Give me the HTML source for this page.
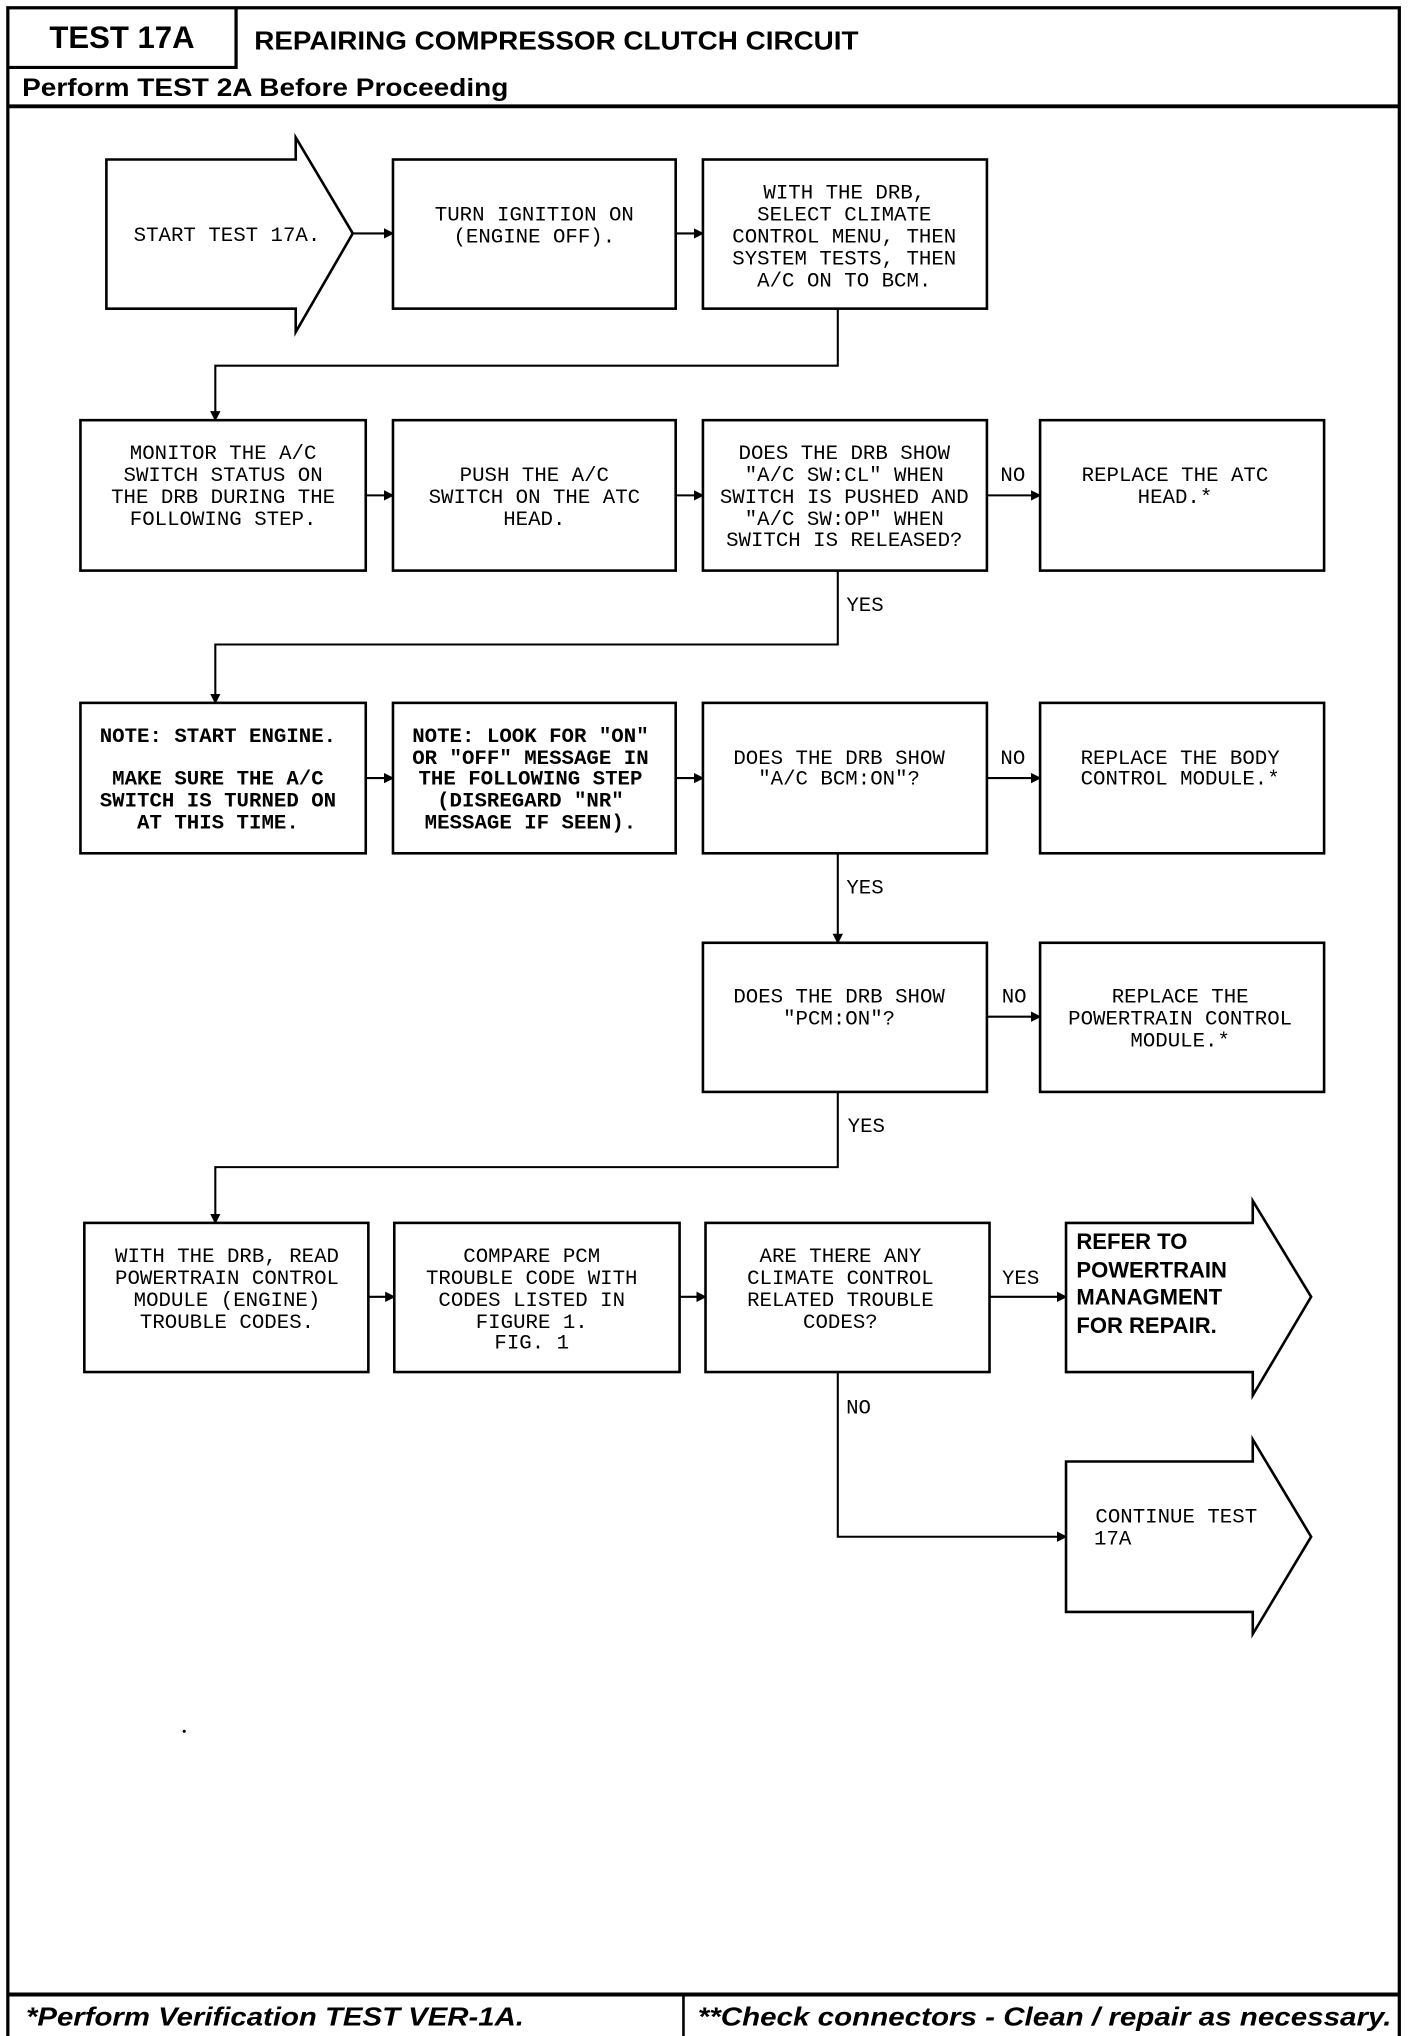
<!DOCTYPE html>
<html><head><meta charset="utf-8"><style>
html,body{margin:0;padding:0;background:#fff;}
svg{display:block;}
.t{font-family:"Liberation Mono",monospace;font-size:16px;fill:#000;text-anchor:middle;}
.b{font-weight:bold;}
.h{font-family:"Liberation Sans",sans-serif;font-weight:bold;fill:#000;}
.s{font-family:"Liberation Sans",sans-serif;font-weight:bold;fill:#000;font-size:17px;}
</style></head><body>
<svg width="1424" height="2036" viewBox="0 0 1098 1570" xmlns="http://www.w3.org/2000/svg">
<defs><marker id="a" markerWidth="8" markerHeight="8" refX="7" refY="4" orient="auto" markerUnits="userSpaceOnUse"><path d="M0,0 L8,4 L0,8 z" fill="#000"/></marker></defs>
<g fill="none" stroke="#000">
<!-- frame -->
<rect x="6" y="6" width="1073" height="1570" stroke-width="2.5"/>
<path d="M6,52 H182 V6" stroke-width="2.5"/>
<path d="M6,82 H1079" stroke-width="3"/>
<path d="M6,1538 H1079" stroke-width="3"/>
<path d="M527,1538 V1570" stroke-width="2"/>
<g stroke-width="2">
<!-- row1 -->
<path d="M82,123 H228 V106 L272,180 L228,256 V238 H82 Z"/>
<rect x="303" y="123" width="218" height="115"/>
<rect x="542" y="123" width="219" height="115"/>
<!-- row2 -->
<rect x="62" y="324" width="220" height="116"/>
<rect x="303" y="324" width="218" height="116"/>
<rect x="542" y="324" width="219" height="116"/>
<rect x="802" y="324" width="219" height="116"/>
<!-- row3 -->
<rect x="62" y="542" width="220" height="116"/>
<rect x="303" y="542" width="218" height="116"/>
<rect x="542" y="542" width="219" height="116"/>
<rect x="802" y="542" width="219" height="116"/>
<!-- row4 -->
<rect x="542" y="727" width="219" height="115"/>
<rect x="802" y="727" width="219" height="115"/>
<!-- row5 -->
<rect x="65" y="943" width="219" height="115"/>
<rect x="304" y="943" width="220" height="115"/>
<rect x="544" y="943" width="219" height="115"/>
<path d="M822,943 H966 V926 L1011,1000 L966,1076 V1058 H822 Z"/>
<path d="M822,1127 H966 V1110 L1011,1185 L966,1260 V1243 H822 Z"/>
</g>
<g stroke-width="1.6" marker-end="url(#a)">
<path d="M272,180 H303"/>
<path d="M521,180 H542"/>
<path d="M646,238 V282 H166 V324"/>
<path d="M282,382 H303"/>
<path d="M521,382 H542"/>
<path d="M761,382 H802"/>
<path d="M646,440 V497 H166 V542"/>
<path d="M282,600 H303"/>
<path d="M521,600 H542"/>
<path d="M761,600 H802"/>
<path d="M646,658 V727"/>
<path d="M761,784 H802"/>
<path d="M646,842 V900 H166 V943"/>
<path d="M284,1000 H304"/>
<path d="M524,1000 H544"/>
<path d="M763,1000 H822"/>
<path d="M646,1058 V1185 H822"/>
</g>
</g>
<circle cx="142" cy="1335" r="1.2" fill="#000"/>
<!-- header text -->
<text class="h" x="94" y="37" font-size="24" text-anchor="middle">TEST 17A</text>
<text class="h" x="196" y="38" font-size="20" textLength="466" lengthAdjust="spacingAndGlyphs">REPAIRING COMPRESSOR CLUTCH CIRCUIT</text>
<text class="h" x="17" y="74" font-size="19" textLength="375" lengthAdjust="spacingAndGlyphs">Perform TEST 2A Before Proceeding</text>
<text class="h" x="20" y="1562" font-size="20" font-style="italic" textLength="384" lengthAdjust="spacingAndGlyphs">*Perform Verification TEST VER-1A.</text>
<text class="h" x="538" y="1562" font-size="20" font-style="italic" textLength="535" lengthAdjust="spacingAndGlyphs">**Check connectors - Clean / repair as necessary.</text>
<!-- box texts -->
<g class="t">
<text x="175" y="186">START TEST 17A.</text>
<text x="412" y="170">TURN IGNITION ON</text>
<text x="412" y="187">(ENGINE OFF).</text>
<text x="651" y="153">WITH THE DRB,</text>
<text x="651" y="170">SELECT CLIMATE</text>
<text x="651" y="187">CONTROL MENU, THEN</text>
<text x="651" y="204">SYSTEM TESTS, THEN</text>
<text x="651" y="221">A/C ON TO BCM.</text>

<text x="172" y="354">MONITOR THE A/C</text>
<text x="172" y="371">SWITCH STATUS ON</text>
<text x="172" y="388">THE DRB DURING THE</text>
<text x="172" y="405">FOLLOWING STEP.</text>
<text x="412" y="371">PUSH THE A/C</text>
<text x="412" y="388">SWITCH ON THE ATC</text>
<text x="412" y="405">HEAD.</text>
<text x="651" y="354">DOES THE DRB SHOW</text>
<text x="651" y="371">"A/C SW:CL" WHEN</text>
<text x="651" y="388">SWITCH IS PUSHED AND</text>
<text x="651" y="405">"A/C SW:OP" WHEN</text>
<text x="651" y="421">SWITCH IS RELEASED?</text>
<text x="906" y="371">REPLACE THE ATC</text>
<text x="906" y="388">HEAD.*</text>

<g class="b">
<text x="168" y="572">NOTE: START ENGINE.</text>
<text x="168" y="605">MAKE SURE THE A/C</text>
<text x="168" y="622">SWITCH IS TURNED ON</text>
<text x="168" y="639">AT THIS TIME.</text>
<text x="409" y="572">NOTE: LOOK FOR "ON"</text>
<text x="409" y="589">OR "OFF" MESSAGE IN</text>
<text x="409" y="605">THE FOLLOWING STEP</text>
<text x="409" y="622">(DISREGARD "NR"</text>
<text x="409" y="639">MESSAGE IF SEEN).</text>
</g>
<text x="647" y="589">DOES THE DRB SHOW</text>
<text x="647" y="605">"A/C BCM:ON"?</text>
<text x="910" y="589">REPLACE THE BODY</text>
<text x="910" y="605">CONTROL MODULE.*</text>

<text x="647" y="773">DOES THE DRB SHOW</text>
<text x="647" y="790">"PCM:ON"?</text>
<text x="910" y="773">REPLACE THE</text>
<text x="910" y="790">POWERTRAIN CONTROL</text>
<text x="910" y="807">MODULE.*</text>

<text x="175" y="973">WITH THE DRB, READ</text>
<text x="175" y="990">POWERTRAIN CONTROL</text>
<text x="175" y="1007">MODULE (ENGINE)</text>
<text x="175" y="1024">TROUBLE CODES.</text>
<text x="410" y="973">COMPARE PCM</text>
<text x="410" y="990">TROUBLE CODE WITH</text>
<text x="410" y="1007">CODES LISTED IN</text>
<text x="410" y="1024">FIGURE 1.</text>
<text x="410" y="1040">FIG. 1</text>
<text x="648" y="973">ARE THERE ANY</text>
<text x="648" y="990">CLIMATE CONTROL</text>
<text x="648" y="1007">RELATED TROUBLE</text>
<text x="648" y="1024">CODES?</text>
<text x="907" y="1174">CONTINUE TEST</text>
<text x="858" y="1191">17A</text>

<text x="781" y="371">NO</text>
<text x="781" y="589">NO</text>
<text x="782" y="773">NO</text>
<text x="667" y="471">YES</text>
<text x="667" y="689">YES</text>
<text x="668" y="873">YES</text>
<text x="787" y="990">YES</text>
<text x="662" y="1090">NO</text>
</g>
<g class="s">
<text x="830" y="963">REFER TO</text>
<text x="830" y="985">POWERTRAIN</text>
<text x="830" y="1006">MANAGMENT</text>
<text x="830" y="1028">FOR REPAIR.</text>
</g>
</svg>
</body></html>
